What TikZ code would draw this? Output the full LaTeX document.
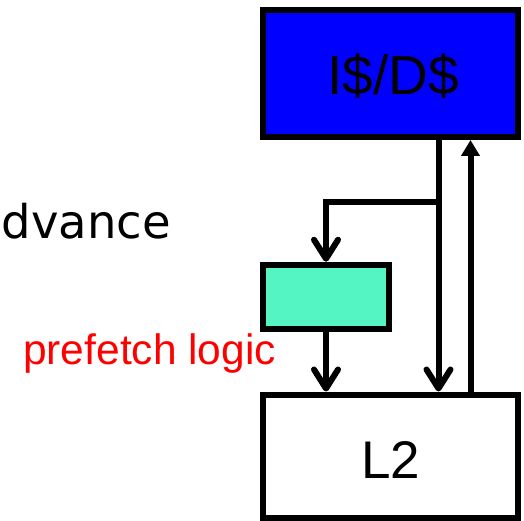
\documentclass[tikz,border=0pt]{standalone}
\usepackage{fontspec}
\setmainfont{Liberation Sans}
\newfontfamily\dvfont{DejaVu Sans}
\usetikzlibrary{arrows.meta}
\definecolor{cacheblue}{RGB}{0,0,255}
\definecolor{pfgreen}{RGB}{85,245,195}
\definecolor{pfred}{RGB}{255,0,0}
\begin{document}
\begin{tikzpicture}[x=1pt,y=-1pt,
  box/.style={draw=black, line width=6pt, rectangle, inner sep=0pt},
  barb/.style={line width=6pt, -{Straight Barb[length=19pt,width=24pt,round]}},
  uparr/.style={line width=6pt, -{Triangle[length=16pt,width=18pt]}}]
\useasboundingbox (0,0) rectangle (524,521);
\node[box, fill=cacheblue, minimum width=254.7pt, minimum height=127.3pt] (ids) at (390.35,73.35) {};
\node[anchor=base, inner sep=0pt, font=\fontsize{55}{60}\selectfont] (idst) at (393.4,95) {I\$/D\$};
\node[box, fill=pfgreen, minimum width=126pt, minimum height=64.3pt] (pf) at (326,296.9) {};
\node[box, fill=white, minimum width=254.7pt, minimum height=123.2pt] (l2) at (390.35,456.1) {};
\node[anchor=base, inner sep=0pt, font=\fontsize{53}{58}\selectfont] (l2t) at (390.5,478) {L2};
\node[anchor=base west, inner sep=0pt, font=\dvfont\fontsize{46.5}{50}\selectfont] (adv) at (1.5,238) {dvance};
\node[anchor=base west, inner sep=0pt, text=pfred, font=\fontsize{42.5}{46}\selectfont] (pfl) at (23,364) {prefetch logic};
\coordinate (a) at (438.5,0);
\coordinate (b) at (470.5,0);
\coordinate (j) at (438.5,201.7);
\draw[barb] (ids.south -| a) -- (l2.north -| a);
\draw[barb, line join=miter] (j) -| (pf.north);
\draw[barb] (pf.south) -- (l2.north -| pf.south);
\draw[uparr] (l2.north -| b) -- (ids.south -| b);
\end{tikzpicture}
\end{document}
